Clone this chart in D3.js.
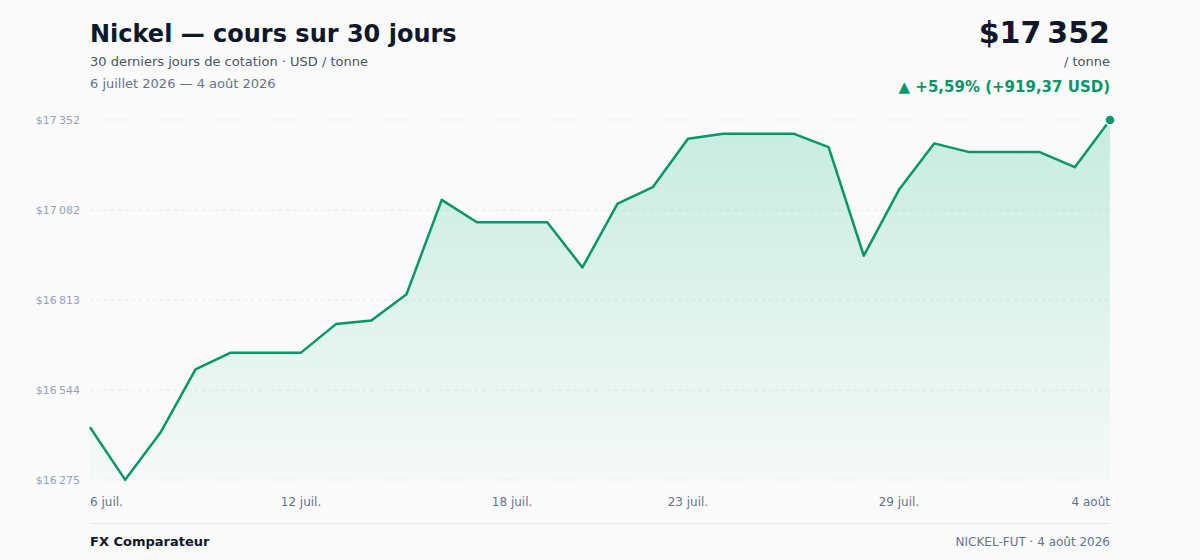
<!DOCTYPE html>
<html lang="fr">
<head>
    <meta charset="UTF-8">
    <title>Nickel — cours sur 30 jours</title>
    <script src="https://d3js.org/d3.v7.min.js"></script>
    <style>
        body {
            margin: 0;
            background: #fafafa;
            font-family: "DejaVu Sans", sans-serif;
        }
    </style>
</head>
<body>
<main></main>
<script>
    // daily closes, 6 juil. -> 4 août 2026
    var dates = ['2026-07-06','2026-07-07','2026-07-08','2026-07-09','2026-07-10','2026-07-11','2026-07-12','2026-07-13','2026-07-14','2026-07-15',
                 '2026-07-16','2026-07-17','2026-07-18','2026-07-19','2026-07-20','2026-07-21','2026-07-22','2026-07-23','2026-07-24','2026-07-25',
                 '2026-07-26','2026-07-27','2026-07-28','2026-07-29','2026-07-30','2026-07-31','2026-08-01','2026-08-02','2026-08-03','2026-08-04'];
    var prices = [16432.63, 16275.4, 16416, 16606, 16656, 16656, 16656, 16742, 16752, 16831,
                  17113, 17046, 17046, 17046, 16911, 17102, 17151, 17296, 17311, 17311,
                  17311, 17271, 16946, 17143, 17282, 17256, 17256, 17256, 17211, 17352];
    var yTicks = [16275, 16544, 16813, 17082, 17352];
    var xTickIdx = [0, 6, 12, 17, 23, 29];
    var xTickLabels = ['6 juil.', '12 juil.', '18 juil.', '23 juil.', '29 juil.', '4 août'];

    var w = 1200, h = 560;
    var m = {top: 120, left: 90, bottom: 80, right: 90};
    var innerW = w - m.left - m.right;
    var innerH = h - m.top - m.bottom;

    var green = '#059669';
    var nsp = '\u202F';
    function fmtNum(v) {
        return d3.format(',.0f')(v).replace(/,/g, nsp);
    }

    var data = prices.map(function(p, i) { return {i: i, date: dates[i], price: p}; });

    var xScale = d3.scaleLinear().domain([0, data.length - 1]).range([0, innerW]);
    var yScale = d3.scaleLinear().domain([yTicks[0], yTicks[yTicks.length - 1]]).range([innerH, 0]);

    var svg = d3.select('main').append('svg')
        .attr('width', w)
        .attr('height', h)
        .style('display', 'block');

    svg.append('rect').attr('width', w).attr('height', h).attr('fill', '#fafafa');

    var defs = svg.append('defs');
    var grad = defs.append('linearGradient')
        .attr('id', 'areaGrad')
        .attr('x1', 0).attr('y1', 0).attr('x2', 0).attr('y2', 1);
    grad.append('stop').attr('offset', '0%').attr('stop-color', '#10b981').attr('stop-opacity', 0.22);
    grad.append('stop').attr('offset', '100%').attr('stop-color', '#10b981').attr('stop-opacity', 0.02);

    // header
    svg.append('text')
        .attr('x', m.left).attr('y', 42)
        .attr('font-size', '24px').attr('font-weight', 'bold')
        .attr('fill', '#0f172a')
        .text('Nickel — cours sur 30 jours');
    svg.append('text')
        .attr('x', m.left).attr('y', 66)
        .attr('font-size', '13px').attr('fill', '#475569')
        .text('30 derniers jours de cotation · USD / tonne');
    svg.append('text')
        .attr('x', m.left).attr('y', 88)
        .attr('font-size', '13px').attr('fill', '#64748b')
        .text('6 juillet 2026 — 4 août 2026');

    var last = prices[prices.length - 1], first = prices[0];
    var diff = last - first;
    var pct = diff / first * 100;
    var frDec = function(v) { return d3.format('.2f')(v).replace('.', ','); };

    svg.append('text')
        .attr('x', w - m.right).attr('y', 43)
        .attr('text-anchor', 'end')
        .attr('font-size', '30px').attr('font-weight', 'bold')
        .attr('fill', '#0f172a')
        .text('$' + fmtNum(last));
    svg.append('text')
        .attr('x', w - m.right).attr('y', 66)
        .attr('text-anchor', 'end')
        .attr('font-size', '13px').attr('fill', '#475569')
        .text('/ tonne');
    svg.append('text')
        .attr('x', w - m.right).attr('y', 92)
        .attr('text-anchor', 'end')
        .attr('font-size', '15px').attr('font-weight', 'bold')
        .attr('fill', green)
        .text('▲ +' + frDec(pct) + '% (+' + frDec(diff) + ' USD)');

    var g = svg.append('g').attr('transform', 'translate(' + m.left + ',' + m.top + ')');

    // grid + y labels
    g.selectAll('.grid').data(yTicks).enter().append('line')
        .attr('class', 'grid')
        .attr('x1', 0).attr('x2', innerW)
        .attr('y1', function(d) { return yScale(d); })
        .attr('y2', function(d) { return yScale(d); })
        .attr('stroke', '#e5e7eb')
        .attr('stroke-width', 1)
        .attr('stroke-dasharray', '3,4');
    g.selectAll('.ylab').data(yTicks).enter().append('text')
        .attr('class', 'ylab')
        .attr('x', -10)
        .attr('y', function(d) { return yScale(d); })
        .attr('dy', '0.35em')
        .attr('text-anchor', 'end')
        .attr('font-size', '11px')
        .attr('fill', '#94a3b8')
        .text(function(d) { return '$' + fmtNum(d); });

    // area + line
    var area = d3.area()
        .x(function(d) { return xScale(d.i); })
        .y0(innerH)
        .y1(function(d) { return yScale(d.price); });
    var line = d3.line()
        .x(function(d) { return xScale(d.i); })
        .y(function(d) { return yScale(d.price); });

    g.append('path').datum(data)
        .attr('d', area)
        .attr('fill', 'url(#areaGrad)');
    g.append('path').datum(data)
        .attr('d', line)
        .attr('fill', 'none')
        .attr('stroke', green)
        .attr('stroke-width', 2.5)
        .attr('stroke-linejoin', 'round');

    g.append('circle')
        .attr('cx', xScale(data.length - 1))
        .attr('cy', yScale(last))
        .attr('r', 5)
        .attr('fill', green)
        .attr('stroke', '#fafafa')
        .attr('stroke-width', 1.5);

    // x labels
    g.selectAll('.xlab').data(xTickIdx).enter().append('text')
        .attr('class', 'xlab')
        .attr('x', function(d) { return xScale(d); })
        .attr('y', innerH + 26)
        .attr('text-anchor', function(d, k) {
            if (k === 0) return 'start';
            if (k === xTickIdx.length - 1) return 'end';
            return 'middle';
        })
        .attr('font-size', '12px')
        .attr('fill', '#64748b')
        .text(function(d, k) { return xTickLabels[k]; });

    // footer
    svg.append('line')
        .attr('x1', m.left).attr('x2', w - m.right)
        .attr('y1', 523.5).attr('y2', 523.5)
        .attr('stroke', '#e5e7eb').attr('stroke-width', 1);
    svg.append('text')
        .attr('x', m.left).attr('y', 546)
        .attr('font-size', '13px').attr('font-weight', 'bold')
        .attr('fill', '#0f172a')
        .text('FX Comparateur');
    svg.append('text')
        .attr('x', w - m.right).attr('y', 546)
        .attr('text-anchor', 'end')
        .attr('font-size', '12px').attr('fill', '#64748b')
        .text('NICKEL-FUT · 4 août 2026');
</script>
</body>
</html>
